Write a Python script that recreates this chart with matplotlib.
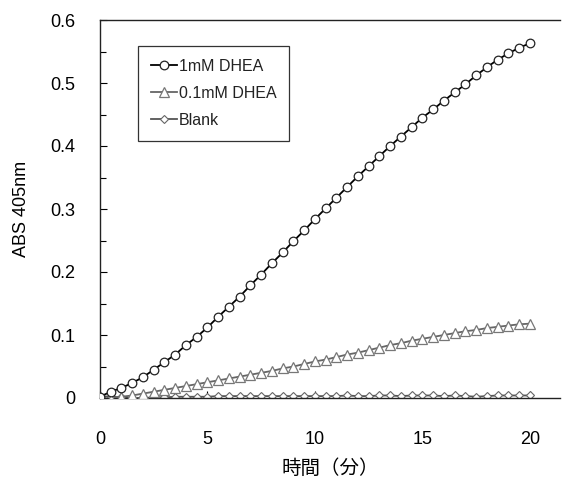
import matplotlib
matplotlib.use("Agg")
import matplotlib.pyplot as plt
from matplotlib.ticker import MultipleLocator

plt.rcParams['font.family'] = ['Liberation Sans', 'Noto Sans CJK JP', 'DejaVu Sans']

time_min = [i * 0.5 for i in range(41)]

dhea_1mm = [0.002, 0.010, 0.016, 0.024, 0.033, 0.045, 0.057, 0.069, 0.084, 0.097,
            0.112, 0.129, 0.145, 0.161, 0.179, 0.196, 0.214, 0.231, 0.249, 0.266,
            0.284, 0.301, 0.318, 0.335, 0.352, 0.368, 0.384, 0.400, 0.415, 0.430,
            0.445, 0.458, 0.472, 0.485, 0.498, 0.512, 0.525, 0.537, 0.547, 0.556,
            0.563]

dhea_01mm = [0.000, -0.001, 0.002, 0.004, 0.007, 0.010, 0.013, 0.016, 0.019, 0.022,
             0.025, 0.028, 0.031, 0.034, 0.037, 0.040, 0.043, 0.047, 0.050, 0.054,
             0.058, 0.061, 0.065, 0.069, 0.072, 0.076, 0.080, 0.084, 0.087, 0.091,
             0.094, 0.097, 0.100, 0.103, 0.106, 0.108, 0.111, 0.113, 0.115, 0.117,
             0.118]

blank = [0.003, 0.002, 0.001, 0.000, 0.000, 0.001, 0.001, 0.002, 0.002, 0.002,
         0.002, 0.003, 0.003, 0.003, 0.003, 0.003, 0.003, 0.003, 0.003, 0.003,
         0.003, 0.003, 0.003, 0.004, 0.003, 0.003, 0.004, 0.004, 0.003, 0.004,
         0.004, 0.004, 0.003, 0.004, 0.003, 0.002, 0.003, 0.004, 0.004, 0.004,
         0.004]

labels = ['1mM DHEA', '0.1mM DHEA', 'Blank']
x_ticks = [0, 5, 10, 15, 20]
y_ticks = [0, 0.1, 0.2, 0.3, 0.4, 0.5, 0.6]
y_ticklabels = ['0', '0.1', '0.2', '0.3', '0.4', '0.5', '0.6']

fig = plt.figure(figsize=(5.69, 4.80), dpi=100)
ax = fig.add_axes([100/569, 82/480, 460/569, 378/480])

ax.plot(time_min, dhea_1mm, color='black', lw=1.3, marker='o', ms=6.2,
        mfc='white', mec='#222222', mew=0.9, label=labels[0], zorder=4)
ax.plot(time_min, dhea_01mm, color='#666666', lw=1.3, marker='^', ms=7.2,
        mfc='white', mec='#777777', mew=0.9, label=labels[1], zorder=3)
ax.plot(time_min, blank, color='#555555', lw=1.3, marker='D', ms=4.3,
        mfc='white', mec='#666666', mew=0.8, label=labels[2], zorder=2)

ax.set_xlim(0, 21.4)
ax.set_ylim(0, 0.6)
ax.set_xticks(x_ticks)
ax.set_yticks(y_ticks)
ax.set_yticklabels(y_ticklabels)
ax.yaxis.set_minor_locator(MultipleLocator(0.05))
ax.tick_params(axis='both', which='both', direction='in', labelsize=13)
ax.tick_params(axis='y', which='major', length=5, width=0.8, pad=18)
ax.tick_params(axis='y', which='minor', length=4, width=0.8)
ax.tick_params(axis='x', which='major', length=5, width=0.8, pad=24)

ax.spines['right'].set_visible(False)
for s in ['left', 'top', 'bottom']:
    ax.spines[s].set_linewidth(1.0)
    ax.spines[s].set_color('#222222')

ax.set_ylabel('ABS 405nm', fontsize=13, labelpad=14)
ax.set_xlabel('時間（分）', fontsize=14, labelpad=8)

leg = ax.legend(loc='upper left', bbox_to_anchor=(0.083, 0.931), borderaxespad=0,
                fontsize=11.5, frameon=True, fancybox=False, handlelength=1.6,
                handletextpad=0.15, labelspacing=0.75, borderpad=0.8)
leg.get_frame().set_edgecolor('black')
leg.get_frame().set_linewidth(0.9)
for t in leg.get_texts():
    t.set_color('#222222')

fig.savefig('out.png', dpi=100)
